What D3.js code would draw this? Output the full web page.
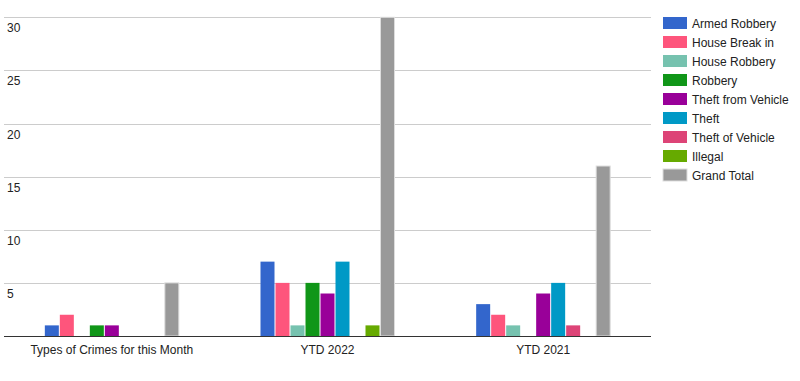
<!DOCTYPE html>
<html>
<head>
<meta charset="utf-8">
<script src="https://cdn.jsdelivr.net/npm/d3@7"></script>
<style>
  body { margin: 0; background: #fff; }
  svg { font-family: Arial, "Liberation Sans", sans-serif; }
  .tick-label { font-size: 12px; fill: #222; }
  .legend-text { font-size: 12px; fill: #222; }
</style>
</head>
<body>
<svg width="800" height="381"></svg>
<script>
// **** Data ****
var categories = ['Types of Crimes for this Month', 'YTD 2022', 'YTD 2021'];
var series = ['Armed Robbery', 'House Break in', 'House Robbery', 'Robbery',
    'Theft from Vehicle', 'Theft', 'Theft of Vehicle', 'Illegal', 'Grand Total'];
var colors = ['#3366cc', '#fe557c', '#76c2af', '#109618', '#990099',
    '#0099c6', '#dd4477', '#66aa00', '#999999'];
var armedRobbery = [1, 7, 3];
var houseBreakIn = [2, 5, 2];
var houseRobbery = [0, 1, 1];
var robbery = [1, 5, 0];
var theftFromVehicle = [1, 4, 4];
var theft = [0, 7, 5];
var theftOfVehicle = [0, 0, 1];
var illegal = [0, 1, 0];
var grandTotal = [5, 30, 16];
var yTicks = [5, 10, 15, 20, 25, 30];

var values = [armedRobbery, houseBreakIn, houseRobbery, robbery,
    theftFromVehicle, theft, theftOfVehicle, illegal, grandTotal];

// **** Scales ****
var svg = d3.select('svg');

var x0 = d3.scaleBand().domain(categories).range([4, 651]);
var x1 = d3.scaleBand().domain(series).range([0, 134]).paddingInner(1 / 15);
var y = d3.scaleLinear().domain([0, 30]).range([336, 17.3]);
var color = d3.scaleOrdinal().domain(series).range(colors);

// gridlines
svg.append('g').selectAll('line')
    .data(yTicks).enter()
    .append('line')
    .attr('x1', 4).attr('x2', 651)
    .attr('y1', function (d) { return Math.round(y(d)) + 0.5; })
    .attr('y2', function (d) { return Math.round(y(d)) + 0.5; })
    .style('stroke', '#cccccc');

// y labels, sitting under each gridline
svg.append('g').selectAll('text')
    .data(yTicks).enter()
    .append('text')
    .attr('class', 'tick-label')
    .attr('x', 7)
    .attr('y', function (d) { return Math.round(y(d)) + 14.5; })
    .text(function (d) { return d; });

// bars
var table = [];
categories.forEach(function (c, ci) {
    series.forEach(function (s, si) {
        table.push({ cat: c, key: s, value: values[si][ci] });
    });
});

svg.append('g').selectAll('rect')
    .data(table.filter(function (d) { return d.value > 0; })).enter()
    .append('rect')
    .attr('x', function (d) {
        return x0(d.cat) + x0.bandwidth() / 2 - 67 + x1(d.key);
    })
    .attr('y', function (d) { return y(d.value); })
    .attr('width', x1.bandwidth())
    .attr('height', function (d) { return y(0) - y(d.value); })
    .style('fill', function (d) { return color(d.key); })
    .style('stroke', function (d) { return d.key === 'Grand Total' ? '#dddddd' : 'none'; })
    .style('stroke-width', 1);

// baseline
svg.append('line')
    .attr('x1', 4).attr('x2', 651)
    .attr('y1', 336.5).attr('y2', 336.5)
    .style('stroke', '#333333');

// x labels
svg.append('g').selectAll('text')
    .data(categories).enter()
    .append('text')
    .attr('class', 'tick-label')
    .attr('x', function (d) { return x0(d) + x0.bandwidth() / 2; })
    .attr('y', 353.5)
    .attr('text-anchor', 'middle')
    .text(function (d) { return d; });

// legend
var legend = svg.append('g').selectAll('g')
    .data(series).enter()
    .append('g')
    .attr('transform', function (d, i) { return 'translate(663,' + (17 + i * 19) + ')'; });

legend.append('rect')
    .attr('width', 24).attr('height', 12)
    .style('fill', function (d) { return color(d); })
    .style('stroke', function (d) { return d === 'Grand Total' ? '#dddddd' : 'none'; });

legend.append('text')
    .attr('class', 'legend-text')
    .attr('x', 29)
    .attr('y', 10.5)
    .text(function (d) { return d; });
</script>
</body>
</html>
